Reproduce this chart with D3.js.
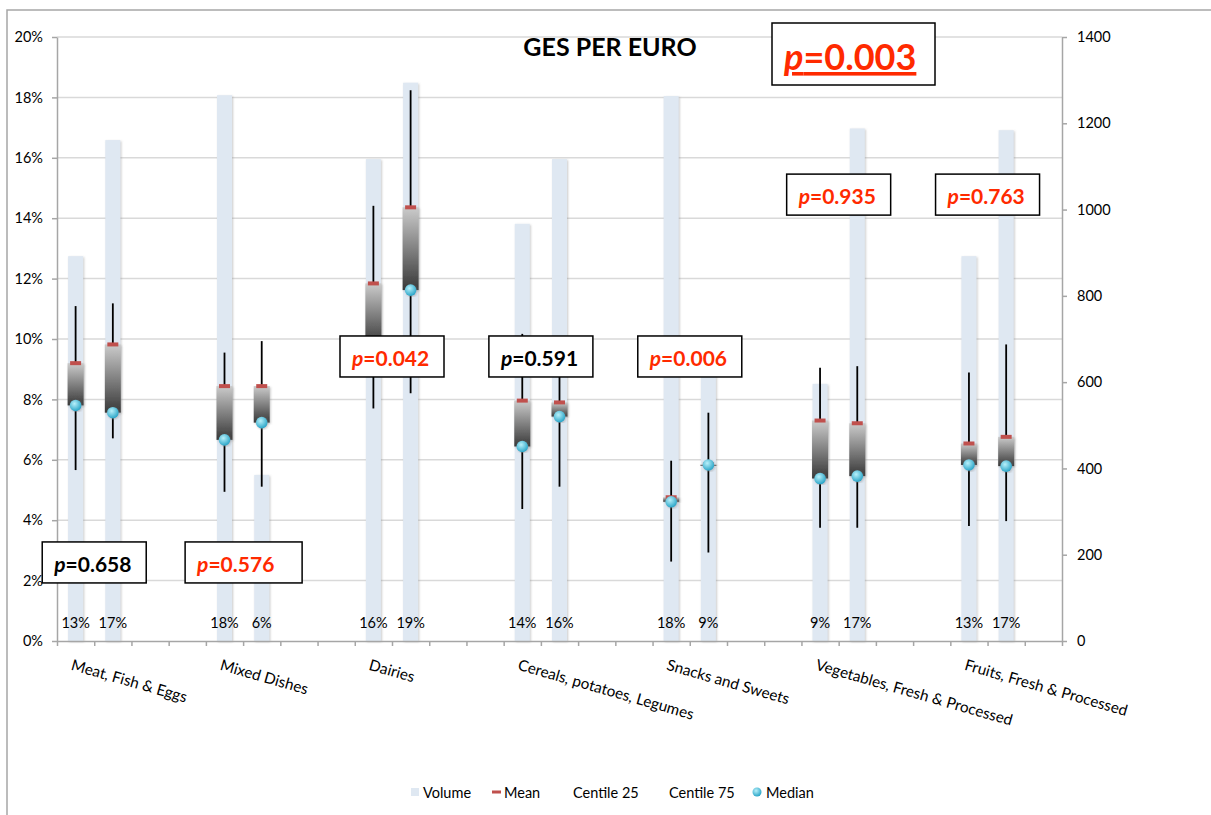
<!DOCTYPE html>
<html>
<head>
<meta charset="utf-8">
<script src="https://cdn.jsdelivr.net/npm/d3@7"></script>
<style>
  body { margin: 0; background: #fff; }
  text { font-family: Lato, "Open Sans", sans-serif; fill: #000; }
</style>
</head>
<body>
<div id="chart"></div>
<script>
// data
const categories = ["Meat, Fish & Eggs", "Mixed Dishes", "Dairies", "Cereals, potatoes, Legumes",
  "Snacks and Sweets", "Vegetables, Fresh & Processed", "Fruits, Fresh & Processed"];

// two bars per category (first / second population)
const volumeA = [892, 1265, 1117, 967, 1263, 596, 892];
const volumeB = [1161, 385, 1294, 1117, 615, 1188, 1184];
const shareA = ["13%", "18%", "16%", "14%", "18%", "9%", "13%"];
const shareB = ["17%", "6%", "19%", "16%", "9%", "17%", "17%"];
const meanA = [9.2, 8.44, 11.84, 7.96, 4.76, 7.3, 6.54];
const meanB = [9.82, 8.44, 14.36, 7.9, 5.85, 7.21, 6.76];
const c25A = [5.66, 4.94, 7.7, 4.37, 2.63, 3.75, 3.81];
const c25B = [6.71, 5.11, 8.2, 5.11, 2.93, 3.75, 3.97];
const c75A = [11.09, 9.55, 14.41, 10.17, 5.97, 9.05, 8.89];
const c75B = [11.18, 9.93, 18.24, 9.6, 7.56, 9.1, 9.82];
const medianA = [7.8, 6.66, 9.8, 6.44, 4.61, 5.38, 5.83];
const medianB = [7.56, 7.23, 11.62, 7.43, 5.83, 5.46, 5.79];

const pValues = ["0.658", "0.576", "0.042", "0.591", "0.006", "0.935", "0.763"];
const pOverall = "0.003";

const leftTicks = d3.range(0, 21, 2);
const rightTicks = d3.range(0, 1401, 200);
const legendItems = ["Volume", "Mean", "Centile 25", "Centile 75", "Median"];

// layout
const width = 1211, height = 815;
const plot = { left: 57, right: 1062, top: 37, bottom: 641 };
const nSlots = 27;

const svg = d3.select("#chart").append("svg")
  .attr("width", width).attr("height", height);

const defs = svg.append("defs");
const boxGrad = defs.append("linearGradient").attr("id", "boxGrad")
  .attr("x1", 0).attr("y1", 0).attr("x2", 0).attr("y2", 1);
boxGrad.append("stop").attr("offset", "0%").attr("stop-color", "#cbcbcb");
boxGrad.append("stop").attr("offset", "100%").attr("stop-color", "#383838");

const medGrad = defs.append("radialGradient").attr("id", "medGrad")
  .attr("cx", "40%").attr("cy", "35%").attr("r", "65%");
medGrad.append("stop").attr("offset", "0%").attr("stop-color", "#b8f0fa");
medGrad.append("stop").attr("offset", "100%").attr("stop-color", "#2ba6c8");

const shadow = defs.append("filter").attr("id", "shadow")
  .attr("x", "-30%").attr("y", "-5%").attr("width", "160%").attr("height", "110%");
shadow.append("feDropShadow").attr("dx", 1).attr("dy", 1).attr("stdDeviation", 1)
  .attr("flood-color", "#888").attr("flood-opacity", 0.45);

// outer chart frame (top and left edges visible)
svg.append("path").attr("d", `M7,${height} V10 H${width}`)
  .attr("fill", "none").attr("stroke", "#a6a6a6").attr("stroke-width", 1.5);

const slot = d3.scaleLinear().domain([0, nSlots]).range([plot.left, plot.right]);
const y = d3.scaleLinear().domain([0, 20]).range([plot.bottom, plot.top]);
const yVol = d3.scaleLinear().domain([0, 1400]).range([plot.bottom, plot.top]);

// bars: category g -> slots 4g and 4g+1
const bars = [];
categories.forEach((c, g) => {
  bars.push({ g, x: slot(4 * g + 0.5), vol: volumeA[g], share: shareA[g], mean: meanA[g], lo: c25A[g], hi: c75A[g], med: medianA[g] });
  bars.push({ g, x: slot(4 * g + 1.5), vol: volumeB[g], share: shareB[g], mean: meanB[g], lo: c25B[g], hi: c75B[g], med: medianB[g] });
});

// gridlines
svg.append("g").selectAll("line").data(leftTicks.filter(d => d > 0)).join("line")
  .attr("x1", plot.left).attr("x2", plot.right)
  .attr("y1", d => y(d)).attr("y2", d => y(d))
  .attr("stroke", "#d9d9d9").attr("stroke-width", 1.5);

// volume bars
svg.append("g").selectAll("rect").data(bars).join("rect")
  .attr("x", d => d.x - 7.5).attr("width", 15)
  .attr("y", d => yVol(d.vol)).attr("height", d => yVol(0) - yVol(d.vol))
  .attr("fill", "#dfe8f2").attr("filter", "url(#shadow)");

// whiskers (centile 25 - centile 75)
svg.append("g").selectAll("line").data(bars).join("line")
  .attr("x1", d => d.x).attr("x2", d => d.x)
  .attr("y1", d => y(d.hi)).attr("y2", d => y(d.lo))
  .attr("stroke", "#000").attr("stroke-width", 1.8);

// boxes between mean and median
svg.append("g").selectAll("rect").data(bars).join("rect")
  .attr("x", d => d.x - 8).attr("width", 16)
  .attr("y", d => y(Math.max(d.mean, d.med)))
  .attr("height", d => Math.max(1.5, Math.abs(y(d.mean) - y(d.med))))
  .attr("fill", "url(#boxGrad)").attr("filter", "url(#shadow)");

// mean markers
svg.append("g").selectAll("rect").data(bars).join("rect")
  .attr("x", d => d.x - 5.5).attr("width", 11)
  .attr("y", d => y(d.mean) - 2).attr("height", 4)
  .attr("fill", "#c0504d");

// median markers
svg.append("g").selectAll("circle").data(bars).join("circle")
  .attr("cx", d => d.x).attr("cy", d => y(d.med)).attr("r", 5.8)
  .attr("fill", "url(#medGrad)").attr("filter", "url(#shadow)");

// share labels
svg.append("g").selectAll("text").data(bars).join("text")
  .attr("x", d => d.x).attr("y", plot.bottom - 13)
  .attr("text-anchor", "middle").attr("font-size", 14.5)
  .text(d => d.share);

// axes
function styleAxis(g) {
  g.select(".domain").attr("stroke", "#a6a6a6").attr("stroke-width", 1.5);
  g.selectAll(".tick line").attr("stroke", "#a6a6a6").attr("stroke-width", 1.5);
  g.selectAll(".tick text").attr("font-size", 14.5).attr("fill", "#000")
    .style("font-family", "Lato, sans-serif");
}

svg.append("g").attr("transform", `translate(${plot.left},0)`)
  .call(d3.axisLeft(y).tickValues(leftTicks).tickFormat(d => d + "%").tickSize(5).tickSizeOuter(0).tickPadding(9))
  .call(styleAxis);

svg.append("g").attr("transform", `translate(${plot.right},0)`)
  .call(d3.axisRight(yVol).tickValues(rightTicks).tickFormat(d3.format("d")).tickSize(5).tickSizeOuter(0).tickPadding(10))
  .call(styleAxis);

svg.append("g").attr("transform", `translate(0,${plot.bottom})`)
  .call(d3.axisBottom(slot).tickValues(d3.range(nSlots + 1)).tickFormat("").tickSize(5).tickSizeOuter(0))
  .call(styleAxis);

// category labels, tilted
svg.append("g").selectAll("text").data(categories).join("text")
  .attr("transform", (d, i) => `translate(${slot(4 * i + 0.5) - 2},${plot.bottom + 17}) rotate(16)`)
  .attr("dominant-baseline", "hanging")
  .attr("font-size", 15.3)
  .text(d => d);

// title
svg.append("text").attr("x", 610).attr("y", 56)
  .attr("text-anchor", "middle").attr("font-size", 25).attr("font-weight", "bold")
  .text("GES PER EURO");

// p-value notes, centred on each category
const noteTop = [3.28, 3.28, 10.1, 10.1, 10.1, 15.46, 15.46];
const noteWidth = [104, 117, 104, 104, 104, 104, 104];
const noteColor = ["#000", "#ff2a00", "#ff2a00", "#000", "#ff2a00", "#ff2a00", "#ff2a00"];

const notes = svg.append("g").selectAll("g").data(pValues).join("g")
  .attr("transform", (d, i) => `translate(${slot(4 * i + 1) - (i === 1 ? 58 : 52)},${y(noteTop[i])})`);
notes.append("rect")
  .attr("width", (d, i) => noteWidth[i]).attr("height", 41)
  .attr("fill", "#fff").attr("stroke", "#000").attr("stroke-width", 1.5);
const noteText = notes.append("text").attr("x", 12).attr("y", 30)
  .attr("font-size", 21).attr("font-weight", "bold")
  .style("fill", (d, i) => noteColor[i]);
noteText.append("tspan").attr("font-style", "italic").text("p");
noteText.append("tspan").text(d => "=" + d);

// overall p-value
const big = svg.append("g").attr("transform", "translate(772,23)");
big.append("rect").attr("width", 163).attr("height", 62)
  .attr("fill", "#fff").attr("stroke", "#000").attr("stroke-width", 1.5);
const bigText = big.append("text").attr("x", 12).attr("y", 47)
  .attr("font-size", 36).attr("font-weight", "bold")
  .attr("text-decoration", "underline").style("fill", "#ff2a00");
bigText.append("tspan").attr("font-style", "italic").text("p");
bigText.append("tspan").text("=" + pOverall);

// legend
const legend = svg.append("g").attr("transform", "translate(0,792)");
const legendX = [411, 492, 573, 669, 752];
legend.append("rect").attr("x", legendX[0]).attr("y", -4).attr("width", 8).attr("height", 8).attr("fill", "#dfe8f2");
legend.append("rect").attr("x", legendX[1]).attr("y", -1.5).attr("width", 9).attr("height", 3).attr("fill", "#c0504d");
legend.append("circle").attr("cx", legendX[4] + 5).attr("cy", 0).attr("r", 4.5).attr("fill", "url(#medGrad)");
legend.selectAll("text").data(legendItems).join("text")
  .attr("x", (d, i) => [423, 504, 573, 669, 766][i])
  .attr("y", 0).attr("dominant-baseline", "central")
  .attr("font-size", 14.5)
  .text(d => d);
</script>
</body>
</html>
